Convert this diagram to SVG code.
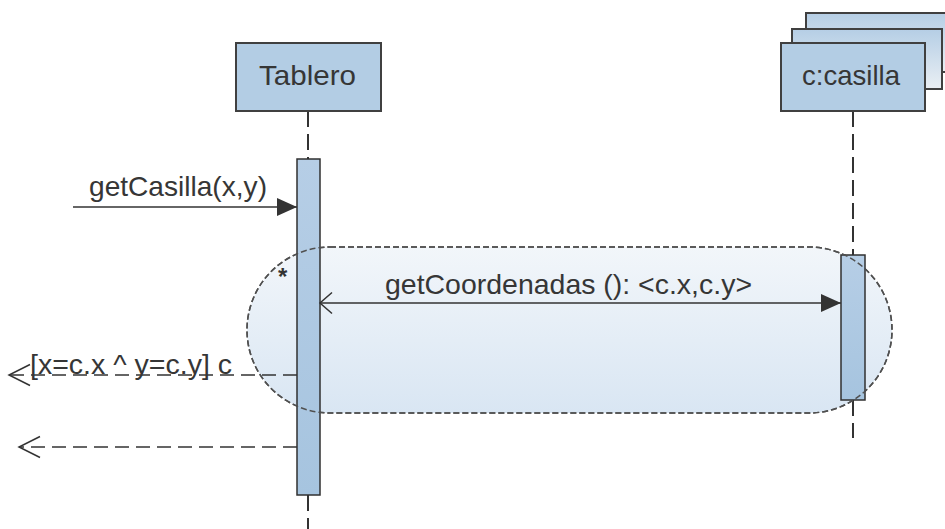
<svg xmlns="http://www.w3.org/2000/svg" width="945" height="529" viewBox="0 0 945 529">
<defs>
<style>
.box{fill:#b3cde4;stroke:#404040;stroke-width:2}
.stackbox{fill:url(#stackGrad);stroke:#404040;stroke-width:2}
.bar{fill:url(#barGrad);stroke:#303030;stroke-width:1.5}
.life{stroke:#333;stroke-width:2;stroke-dasharray:16 7;fill:none}
.msg{stroke:#333;stroke-width:1.5;fill:none}
.ret{stroke:#333;stroke-width:1.5;fill:none;stroke-dasharray:14 7}
.lbl{font-family:"Liberation Sans",Arial,sans-serif;font-size:28px;fill:#363636}
.frag{fill:url(#fragGrad);stroke:#505050;stroke-width:1.5;stroke-dasharray:6 3}
.fragline{fill:none;stroke:#505050;stroke-width:1.5;stroke-dasharray:6 3}
</style>
<linearGradient id="stackGrad" x1="0" y1="0" x2="0" y2="1">
<stop offset="0" stop-color="#b5cee5"/>
<stop offset="1" stop-color="#eaeff4"/>
</linearGradient>
<linearGradient id="barGrad" x1="0" y1="0" x2="0" y2="1">
<stop offset="0" stop-color="#b6cee6"/>
<stop offset="1" stop-color="#a6c4df"/>
</linearGradient>
<linearGradient id="fragGrad" x1="0" y1="0" x2="0" y2="1">
<stop offset="0" stop-color="#f2f6fa"/>
<stop offset="1" stop-color="#d9e6f3"/>
</linearGradient>
<marker id="filled" markerUnits="userSpaceOnUse" markerWidth="22" markerHeight="20" refX="20" refY="9" orient="auto" overflow="visible">
<path d="M0,0 L20,9 L0,18 Z" fill="#333"/>
</marker>
<marker id="open" markerUnits="userSpaceOnUse" markerWidth="24" markerHeight="24" refX="21" refY="10.5" orient="auto" overflow="visible">
<path d="M0,0 L21,10.5 L0,21" fill="none" stroke="#333" stroke-width="1.5"/>
</marker>
<marker id="openStart" markerUnits="userSpaceOnUse" markerWidth="24" markerHeight="24" refX="12" refY="10.5" orient="auto-start-reverse" overflow="visible">
<path d="M0,0 L12,10.5 L0,21" fill="none" stroke="#333" stroke-width="1.5"/>
</marker>
</defs>

<g id="lifelines">
<line class="life" x1="308" y1="111" x2="308" y2="159"/>
<line class="life" x1="308" y1="495" x2="308" y2="529"/>
<line class="life" x1="853" y1="111" x2="853" y2="255"/>
<line class="life" x1="853" y1="400" x2="853" y2="438"/>
</g>

<g id="tablero">
<rect class="box" x="236" y="43" width="145" height="68"/>
<text class="lbl" x="259" y="85" textLength="97" lengthAdjust="spacingAndGlyphs">Tablero</text>
</g>

<g id="casilla">
<rect class="stackbox" x="806" y="13" width="152" height="59"/>
<rect class="stackbox" x="792" y="29" width="150" height="60"/>
<rect class="box" x="781" y="43" width="144" height="68"/>
<text class="lbl" x="802" y="85" textLength="98" lengthAdjust="spacingAndGlyphs">c:casilla</text>
</g>

<g id="loop-fragment">
<rect class="frag" x="247" y="247" width="645" height="166" rx="83" ry="83"/>
<text x="278" y="285" style="font-family:'Liberation Sans',Arial,sans-serif;font-size:24px;font-weight:bold;fill:#333">*</text>
</g>

<g id="tablero-activation">
<rect class="bar" x="297" y="159" width="23" height="336"/>
</g>

<g id="casilla-activation">
<rect class="bar" x="841" y="255" width="24" height="145"/>
</g>

<g id="loop-fragment-border">
<rect class="fragline" x="247" y="247" width="645" height="166" rx="83" ry="83"/>
</g>

<g id="connectors">
<line class="msg" x1="73" y1="207" x2="297" y2="207" marker-end="url(#filled)"/>
<line class="msg" x1="320" y1="303" x2="841" y2="303" marker-start="url(#openStart)" marker-end="url(#filled)"/>
<line class="ret" x1="297" y1="375" x2="9" y2="375" marker-end="url(#open)"/>
<line class="ret" x1="297" y1="447" x2="19" y2="447" marker-end="url(#open)"/>
<text class="lbl" x="89" y="196" textLength="178" lengthAdjust="spacingAndGlyphs">getCasilla(x,y)</text>
<text class="lbl" x="385" y="294" textLength="367" lengthAdjust="spacingAndGlyphs">getCoordenadas (): &lt;c.x,c.y&gt;</text>
<text class="lbl" x="30" y="374" textLength="202" lengthAdjust="spacingAndGlyphs">[x=c.x ^ y=c.y] c</text>
</g>
</svg>
